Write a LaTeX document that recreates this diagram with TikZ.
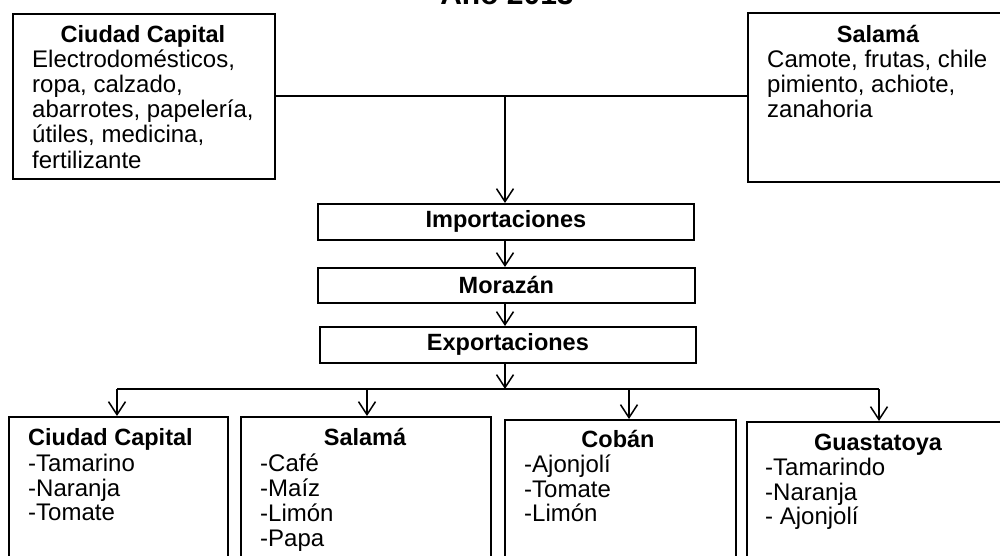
\documentclass[tikz,border=0pt]{standalone}
\usepackage{fontspec}
\setmainfont{Liberation Sans}
\usetikzlibrary{arrows.meta}
\begin{document}
\begin{tikzpicture}[x=1pt,y=-1pt,
  box/.style={draw,line width=1.8pt,inner sep=0pt,anchor=north west},
  conn/.style={line width=1.5pt},
  arr/.style={conn,-{Straight Barb[length=13pt,width=17pt,line width=1.5pt]}},
  txt/.style={inner sep=0pt,font=\fontsize{24}{25}\selectfont},
  bold/.style={txt,font=\fontsize{23.5}{25}\selectfont\bfseries}
]
\useasboundingbox (0,0) rectangle (1000,556);
\clip (0,0) rectangle (1000,556);
% title (cut off at top, as in the reference)
\node[inner sep=0pt,anchor=base,font=\fontsize{30}{30}\selectfont\bfseries] (title) at (507,5) {Año 2013};
% top boxes
\node[box,minimum width=262pt,minimum height=165pt] (capL) at (12,13) {};
\node[box,minimum width=270pt,minimum height=169pt] (salR) at (747,12) {};
\node[bold,anchor=base] (capLt) at (143,43) {Ciudad Capital};
\node[txt,anchor=base west] (capL1) at (32,68) {Electrodomésticos,};
\node[txt,anchor=base west] (capL2) at (32,93) {ropa, calzado,};
\node[txt,anchor=base west] (capL3) at (32,118) {abarrotes, papelería,};
\node[txt,anchor=base west] (capL4) at (32,143) {útiles, medicina,};
\node[txt,anchor=base west] (capL5) at (32,168) {fertilizante};
\node[bold,anchor=base] (salRt) at (878,43) {Salamá};
\node[txt,anchor=base west] (salR1) at (767,68) {Camote, frutas, chile};
\node[txt,anchor=base west] (salR2) at (767,93) {pimiento, achiote,};
\node[txt,anchor=base west] (salR3) at (767,118) {zanahoria};
% middle chain
\node[box,minimum width=376pt,minimum height=36pt] (imp) at (317,203) {};
\node[bold] (impt) at (imp.center) {Importaciones};
\node[box,minimum width=377pt,minimum height=35pt] (mor) at (317,267) {};
\node[bold] (mort) at (mor.center) {Morazán};
\node[box,minimum width=376pt,minimum height=36pt] (exp) at (319,326) {};
\node[bold] (expt) at (exp.center) {Exportaciones};
% bottom boxes
\node[box,minimum width=219pt,minimum height=160pt] (b1) at (8,416) {};
\node[box,minimum width=250pt,minimum height=160pt] (b2) at (240,416) {};
\node[box,minimum width=231pt,minimum height=160pt] (b3) at (504,419) {};
\node[box,minimum width=270pt,minimum height=160pt] (b4) at (746,421) {};
\node[bold,anchor=base west] (b1t) at (28,445) {Ciudad Capital};
\node[txt,anchor=base west] (b1a) at (28,471) {-Tamarino};
\node[txt,anchor=base west] (b1b) at (28,496) {-Naranja};
\node[txt,anchor=base west] (b1c) at (28,520) {-Tomate};
\node[bold,anchor=base] (b2t) at (365,445) {Salamá};
\node[txt,anchor=base west] (b2a) at (260,471) {-Café};
\node[txt,anchor=base west] (b2b) at (260,496) {-Maíz};
\node[txt,anchor=base west] (b2c) at (260,521) {-Limón};
\node[txt,anchor=base west] (b2d) at (260,546) {-Papa};
\node[bold,anchor=base] (b3t) at (618,447) {Cobán};
\node[txt,anchor=base west] (b3a) at (524,472) {-Ajonjolí};
\node[txt,anchor=base west] (b3b) at (524,497) {-Tomate};
\node[txt,anchor=base west] (b3c) at (524,521) {-Limón};
\node[bold,anchor=base] (b4t) at (878,450) {Guastatoya};
\node[txt,anchor=base west] (b4a) at (765,475) {-Tamarindo};
\node[txt,anchor=base west] (b4b) at (765,500) {-Naranja};
\node[txt,anchor=base west] (b4c) at (765,524) {- Ajonjolí};
% connectors
\coordinate (jtop) at (505,96);
\coordinate (jbot) at (505,389);
\coordinate (d1) at (117,389);
\coordinate (d2) at (367,389);
\coordinate (d3) at (629,389);
\coordinate (d4) at (879,389);
\draw[conn] (capL.east |- jtop) -- (salR.west |- jtop);
\draw[arr] (jtop) -- (jtop |- imp.north);
\draw[arr] (jtop |- imp.south) -- (jtop |- mor.north);
\draw[arr] (jtop |- mor.south) -- (jtop |- exp.north);
\draw[arr] (jtop |- exp.south) -- (jbot);
\draw[conn] (d1) -- (d4);
\draw[arr] (d1) -- (d1 |- b1.north);
\draw[arr] (d2) -- (d2 |- b2.north);
\draw[arr] (d3) -- (d3 |- b3.north);
\draw[arr] (d4) -- (d4 |- b4.north);
\end{tikzpicture}
\end{document}
